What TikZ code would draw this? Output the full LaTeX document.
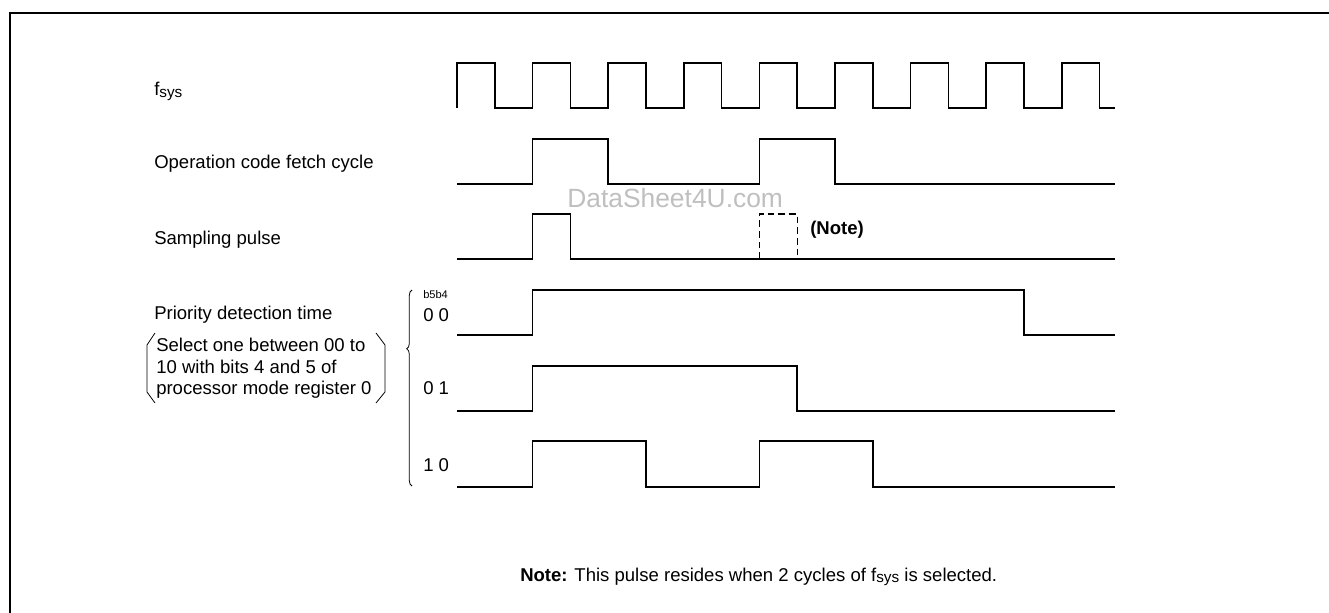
\documentclass[tikz,border=0pt]{standalone}
\usepackage{fontspec}
\setmainfont{Liberation Sans}
\usetikzlibrary{decorations.pathreplacing}
\begin{document}
\begin{tikzpicture}[x=0.75pt,y=-0.75pt,
  wave/.style={line width=1.1pt,line join=miter},
  lbl/.style={anchor=base west,inner sep=0pt,font=\fontsize{13.9}{16.5}\selectfont},
  smalllbl/.style={anchor=base west,inner sep=0pt,font=\fontsize{8.3}{10}\selectfont},
  thin/.style={line width=0.6pt}]
\useasboundingbox (0,0) rectangle (1329,613);
% frame
\draw[line width=1.9pt] (10,640) -- (10,13) -- (1360,13);
% labels
\node[lbl] (lfsys) at (154,96) {f\raisebox{-0.8pt}{\fontsize{11.5}{12}\selectfont sys}};
\node[lbl] (lop) at (154,168.5) {Operation code fetch cycle};
\node[lbl] (lsamp) at (154,244.5) {Sampling pulse};
\node[lbl] (lprio) at (154,319.5) {Priority detection time};
\node[lbl] (lsel1) at (156,351.5) {Select one between 00 to};
\node[lbl] (lsel2) at (156,373) {10 with bits 4 and 5 of};
\node[lbl] (lsel3) at (156,394.5) {processor mode register 0};
\node[smalllbl] (lb) at (423,298) {b5b4};
\node[lbl] (l00) at (423,321.5) {0 0};
\node[lbl] (l01) at (423,394.5) {0 1};
\node[lbl] (l10) at (423,471.5) {1 0};
\node[lbl,font=\fontsize{13.9}{16.5}\selectfont\bfseries] (lnote) at (810,234.5) {(Note)};
\node[lbl] (note) at (520,581.5) {\textbf{Note:} This pulse resides when 2 cycles of f\raisebox{-0.8pt}{\fontsize{11.5}{12}\selectfont sys} is selected.};
\node[anchor=base west,inner sep=0pt,font=\fontsize{19.8}{22}\selectfont,text=black!25] (wm) at (567,207.5) {DataSheet4U.com};
% angle brackets
\draw[thin] (155,333) -- (147,345) -- (147,392) -- (155,403);
\draw[thin] (376,333) -- (385,345) -- (385,392) -- (376,403);
% brace
\draw[thin,decorate,decoration={brace,amplitude=4pt,aspect=0.7}] (412,486) -- (412,290);
% fsys clock
\draw[wave] (457,108) -- (457,63) -- (494.8,63) -- (494.8,108) -- (532.6,108) -- (532.6,63)
  -- (570.4,63) -- (570.4,108) -- (608.2,108) -- (608.2,63) -- (646,63) -- (646,108)
  -- (683.8,108) -- (683.8,63) -- (721.6,63) -- (721.6,108) -- (759.4,108) -- (759.4,63)
  -- (797.2,63) -- (797.2,108) -- (835,108) -- (835,63) -- (872.8,63) -- (872.8,108)
  -- (910.6,108) -- (910.6,63) -- (948.4,63) -- (948.4,108) -- (986.2,108) -- (986.2,63)
  -- (1024,63) -- (1024,108) -- (1061.8,108) -- (1061.8,63) -- (1099.6,63) -- (1099.6,108) -- (1115,108);
% op code fetch
\draw[wave] (457,184) -- (532.6,184) -- (532.6,139) -- (608.2,139) -- (608.2,184)
  -- (759.4,184) -- (759.4,139) -- (835,139) -- (835,184) -- (1115,184);
% sampling pulse
\draw[wave] (457,259) -- (532.6,259) -- (532.6,214) -- (570.4,214) -- (570.4,259) -- (1115,259);
\draw[line width=1pt,dash pattern=on 5pt off 3pt] (759.4,259) -- (759.4,214) -- (797.2,214) -- (797.2,259);
% 00
\draw[wave] (457,335) -- (532.6,335) -- (532.6,290) -- (1024,290) -- (1024,335) -- (1115,335);
% 01
\draw[wave] (457,411) -- (532.6,411) -- (532.6,366) -- (797.2,366) -- (797.2,411) -- (1115,411);
% 10
\draw[wave] (457,487) -- (532.6,487) -- (532.6,441) -- (646,441) -- (646,487)
  -- (759.4,487) -- (759.4,441) -- (872.8,441) -- (872.8,487) -- (1115,487);
\end{tikzpicture}
\end{document}
